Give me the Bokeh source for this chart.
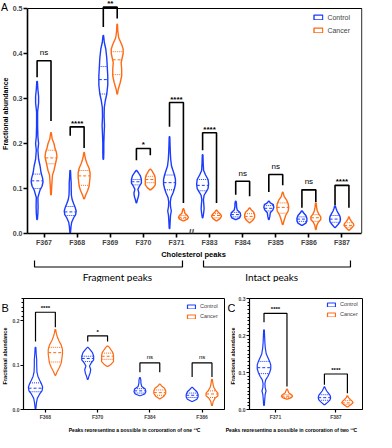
import numpy as np
from bokeh.plotting import figure
from bokeh.models import Range1d, FixedTicker, Label, PrintfTickFormatter
from bokeh.layouts import column, row
from bokeh.embed import file_html
from bokeh.resources import INLINE
from bokeh.core.properties import value

CTRL = "#1b3cff"
CANC = "#ff6a13"
AR = "Liberation Sans"

peaks = ["F367", "F368", "F369", "F370", "F371", "F383", "F384", "F385", "F386", "F387"]

# violin profiles: fractional abundance levels and half-widths (relative units)
ctrl_y = [
    [0.031, 0.045, 0.06, 0.08, 0.097, 0.105, 0.115, 0.123, 0.135, 0.15, 0.165, 0.185, 0.2, 0.215, 0.24, 0.27, 0.29, 0.305, 0.32, 0.338],
    [0.002, 0.015, 0.025, 0.035, 0.042, 0.05, 0.058, 0.066, 0.075, 0.085, 0.1, 0.112, 0.125, 0.14],
    [0.165, 0.18, 0.2, 0.22, 0.24, 0.26, 0.28, 0.295, 0.31, 0.33, 0.35, 0.37, 0.39, 0.41, 0.425, 0.44],
    [0.068, 0.075, 0.082, 0.09, 0.098, 0.105, 0.112, 0.12, 0.128, 0.135, 0.14],
    [0.011, 0.025, 0.04, 0.05, 0.06, 0.07, 0.08, 0.09, 0.1, 0.11, 0.12, 0.13, 0.14, 0.15, 0.165, 0.18, 0.2, 0.215],
    [0.035, 0.045, 0.055, 0.065, 0.075, 0.085, 0.094, 0.1, 0.11, 0.12, 0.13, 0.14, 0.155, 0.175],
    [0.031, 0.035, 0.04, 0.046, 0.052, 0.06, 0.066, 0.072],
    [0.031, 0.038, 0.046, 0.052, 0.058, 0.064, 0.068, 0.072],
    [0.018, 0.023, 0.028, 0.034, 0.04, 0.045, 0.05],
    [0.013, 0.02, 0.026, 0.032, 0.038, 0.044, 0.05, 0.056, 0.061],
]
ctrl_w = [
    [0.3, 0.8, 1.0, 0.8, 3, 5, 6, 5.5, 4, 3, 1.5, 0.8, 1.5, 0.8, 0.5, 0.5, 1.5, 1.5, 0.8, 0.3],
    [0.3, 0.8, 1.5, 3.5, 5.5, 6, 5, 3.5, 2, 1.2, 1, 1, 0.6, 0.3],
    [0.3, 0.5, 0.5, 0.8, 1.2, 0.8, 1, 2, 3.5, 4.5, 4.5, 4, 3.5, 2.5, 1, 0.3],
    [0.3, 1, 2, 2.5, 1.5, 3, 5, 5, 4, 2, 0.3],
    [0.3, 0.6, 1, 1.8, 1, 0.8, 1.5, 3.5, 5, 6, 6, 5, 3.5, 2, 1.2, 0.8, 0.5, 0.3],
    [0.3, 1, 1.5, 1.2, 0.8, 1.5, 4, 5.5, 6, 5.5, 3, 1, 0.6, 0.3],
    [0.3, 4, 5, 4.5, 1.5, 0.8, 0.8, 0.3],
    [0.3, 1, 1.5, 4, 5, 4.5, 1.5, 0.3],
    [0.3, 4, 5, 5, 4, 2, 0.3],
    [0.3, 3, 5, 5.5, 5, 3.5, 2, 1, 0.3],
]
canc_y = [
    [0.086, 0.1, 0.115, 0.13, 0.14, 0.15, 0.16, 0.17, 0.18, 0.19, 0.2, 0.21, 0.224],
    [0.077, 0.085, 0.095, 0.105, 0.115, 0.125, 0.135, 0.145, 0.155, 0.165, 0.172, 0.18],
    [0.31, 0.32, 0.335, 0.35, 0.365, 0.38, 0.39, 0.4, 0.41, 0.42, 0.435, 0.45, 0.465],
    [0.097, 0.102, 0.108, 0.115, 0.122, 0.128, 0.134, 0.14, 0.143],
    [0.028, 0.032, 0.036, 0.04, 0.045, 0.05, 0.055],
    [0.028, 0.033, 0.038, 0.043, 0.048, 0.052],
    [0.024, 0.03, 0.036, 0.042, 0.048, 0.053, 0.057],
    [0.02, 0.03, 0.04, 0.05, 0.058, 0.066, 0.074, 0.082, 0.092],
    [0.009, 0.018, 0.025, 0.031, 0.037, 0.043, 0.05, 0.058, 0.068],
    [0.007, 0.013, 0.018, 0.022, 0.027, 0.032, 0.037],
]
canc_w = [
    [0.3, 0.6, 1, 1.5, 3, 4, 5, 6, 5.5, 4, 3, 1.2, 0.3],
    [0.3, 1.5, 3.5, 5, 5.5, 6, 6, 5, 3, 1.5, 0.8, 0.3],
    [0.3, 1, 3, 4.5, 4.5, 4, 5, 6, 6, 4.5, 1.5, 0.6, 0.3],
    [0.3, 3, 5, 5, 5, 4.5, 3, 1.5, 0.3],
    [0.3, 4, 5, 4, 1.5, 1, 0.3],
    [0.3, 3.5, 5, 4, 1.5, 0.3],
    [0.3, 3.5, 5, 5, 4, 1.5, 0.3],
    [0.3, 1.5, 3, 5.5, 6, 5.5, 4, 1.5, 0.3],
    [0.3, 1, 2.5, 5, 5, 3, 1.5, 0.8, 0.3],
    [0.3, 3, 5, 4.5, 2.5, 1, 0.3],
]
# quartiles (q1, median, q3)
ctrl_q = [(0.1, 0.117, 0.132), (0.04, 0.048, 0.06), (0.31, 0.342, 0.371), (0.108, 0.115, 0.12),
          (0.097, 0.113, 0.13), (0.095, 0.107, 0.12), (0.037, 0.042, 0.047), (0.05, 0.056, 0.062),
          (0.027, 0.032, 0.037), (0.025, 0.032, 0.04)]
canc_q = [(0.155, 0.168, 0.185), (0.107, 0.128, 0.14), (0.353, 0.386, 0.404), (0.113, 0.12, 0.127),
          (0.033, 0.036, 0.04), (0.035, 0.04, 0.044), (0.032, 0.038, 0.044), (0.045, 0.058, 0.068),
          (0.027, 0.035, 0.042), (0.014, 0.018, 0.024)]

# significance brackets
sigA_text = ["ns", "****", "**", "*", "****", "****", "ns", "ns", "ns", "****"]
sigA_top = [0.384, 0.237, 0.503, 0.189, 0.291, 0.224, 0.116, 0.131, 0.097, 0.107]
sigA_left = [0.347, 0.217, 0.459, 0.163, 0.237, 0.185, 0.086, 0.092, 0.057, 0.063]
sigA_right = [0.25, 0.19, 0.478, 0.174, 0.068, 0.068, 0.083, 0.107, 0.07, 0.057]

catsB = [1, 3, 6, 8]
sigB_text = ["****", "*", "ns", "ns"]
sigB_top = [0.219, 0.166, 0.105, 0.105]
sigB_left = [0.153, 0.153, 0.084, 0.073]
sigB_right = [0.185, 0.153, 0.084, 0.073]

catsC = [4, 9]
sigC_text = ["****", "****"]
sigC_top = [0.26, 0.096]
sigC_left = [0.236, 0.067]
sigC_right = [0.062, 0.044]

groups = ["Fragment peaks", "Intact peaks"]
group_start = [-0.2, 4.86]
group_end = [4.23, 9.26]
group_text_x = [2.28, 6.9]

TITLE_A_X = "Cholesterol peaks"
TITLE_Y = "Fractional abundance"
TITLE_B_X = "Peaks representing a possible in corporation of one \u00b9\u00b3C"
TITLE_C_X = "Peaks representing a possible in corporation of two \u00b9\u00b3C"


def style(p, tick_fs, lw, tick_len):
    p.grid.visible = False
    p.outline_line_color = "black"
    p.outline_line_width = 1
    for ax in [p.xaxis[0], p.yaxis[0]]:
        ax.axis_line_color = "black"
        ax.axis_line_width = lw
        ax.major_tick_line_color = "black"
        ax.major_tick_line_width = lw
        ax.major_tick_out = tick_len
        ax.major_tick_in = 0
        ax.minor_tick_line_color = None
        ax.major_label_text_font = AR
        ax.major_label_text_font_style = "bold"
        ax.major_label_text_font_size = tick_fs
        ax.major_label_standoff = 1


def strip(width, height, items):
    """Blank figure holding free text (panel letters, axis titles); coordinates in pixels."""
    s = figure(width=width, height=height, x_range=Range1d(0, width), y_range=Range1d(0, height),
               min_border=0, x_axis_type=None, y_axis_type=None,
               toolbar_location=None, output_backend="svg")
    s.outline_line_color = None
    for (x, y, t, fs, style_, angle, align, font) in items:
        s.text(x=[x], y=[y], text=[t], angle=angle, text_align=align, text_baseline="middle",
               text_font=value(font), text_font_size=fs, text_font_style=style_, text_color="black")
    return s


def draw_violins(p, idx, off, scale, lw):
    for g, (Y, W, Q, col, lab) in enumerate([(ctrl_y, ctrl_w, ctrl_q, CTRL, "Control"),
                                               (canc_y, canc_w, canc_q, CANC, "Cancer")]):
        xs, ys = [], []
        m = dict(x0=[], x1=[], y=[])
        q = dict(x0=[], x1=[], y=[])
        for pos, k in enumerate(idx):
            cx = pos - off if g == 0 else pos + off
            yv, wv = Y[k], W[k]
            xs.append([cx + w * scale for w in wv] + [cx - w * scale for w in wv[::-1]])
            ys.append(list(yv) + list(yv[::-1]))
            for j, qq in enumerate(Q[k]):
                hw = float(np.interp(qq, yv, wv)) * scale
                d = m if j == 1 else q
                d["x0"].append(cx - hw)
                d["x1"].append(cx + hw)
                d["y"].append(qq)
        p.patches(xs, ys, fill_color="white", line_color=col, line_width=lw, legend_label=lab)
        p.segment(m["x0"], m["y"], m["x1"], m["y"], line_color=col, line_width=1, line_dash="3 2")
        p.segment(q["x0"], q["y"], q["x1"], q["y"], line_color=col, line_width=1, line_dash="1 1")


def draw_sig(p, texts, tops, lefts, rights, off, fs, lw, star_off, ns_off):
    xs, ys = [], []
    for i, (t, top, lb, rb) in enumerate(zip(texts, tops, lefts, rights)):
        xs.append([i - off, i - off, i + off, i + off])
        ys.append([lb, top, top, rb])
        star = "*" in t
        p.add_layout(Label(x=i, y=top, text=t, text_align="center", text_baseline="bottom",
                           y_offset=star_off if star else ns_off, text_font=AR,
                           text_font_size=fs, text_font_style="bold" if star else "normal",
                           text_color="black"))
    p.multi_line(xs, ys, line_color="black", line_width=lw)


def style_legend(p, fs, gw, gh, lh, margin, pad, spacing):
    lg = p.legend[0]
    lg.location = "top_right"
    lg.margin = margin
    lg.padding = pad
    lg.spacing = spacing
    lg.glyph_width = gw
    lg.glyph_height = gh
    lg.label_height = lh
    lg.label_standoff = 4
    lg.label_text_font = AR
    lg.label_text_font_size = fs
    lg.border_line_color = None
    lg.background_fill_alpha = 0


# ---------------- Panel A (page y 8..256, frame x 32..370, y 8..241) ----------------
A_H = 248
pA = figure(width=367, height=A_H, x_range=Range1d(-0.5, 9.62), y_range=Range1d(0, 0.51778),
            min_border_left=15, min_border_right=14, min_border_top=0, min_border_bottom=15,
            toolbar_location=None, output_backend="svg")
style(pA, "7px", 1.6, 4)
pA.outline_line_color = None
pA.xaxis.bounds = (-0.5, 9.6)
pA.yaxis.bounds = (0, 0.5)
pA.xaxis.ticker = FixedTicker(ticks=list(range(len(peaks))))
pA.xaxis.major_label_overrides = {i: peaks[i] for i in range(len(peaks))}
pA.yaxis.ticker = FixedTicker(ticks=[0, 0.1, 0.2, 0.3, 0.4, 0.5])
pA.yaxis.formatter = PrintfTickFormatter(format="%.1f")
# box top and right edge at the end of the y scale
pA.segment(x0=[-0.5, 9.6], y0=[0.5, 0], x1=[9.6, 9.6], y1=[0.5, 0.5], line_color="black", line_width=1)
draw_violins(pA, list(range(len(peaks))), 0.21, 1 / 33.4, 1.4)
draw_sig(pA, sigA_text, sigA_top, sigA_left, sigA_right, 0.21, "8px", 1.6, -1, 3.5)
style_legend(pA, "7px", 11, 6, 10, 12, 7, 3)
pA.add_layout(Label(x=4.45, y=0, text="//", text_align="center", text_baseline="middle",
                    text_font=AR, text_font_style="bold", text_font_size="10px", level="overlay"))

sA = strip(9, A_H, [(0.5, 241, "A", "10.5px", "normal", 0, "left", AR),
                    (4.5, 127.5, TITLE_Y, "7px", "bold", np.pi / 2, "center", AR)])

# ---------------- group brackets (page y 256..290) ----------------
pG = figure(width=376, height=34, x_range=pA.x_range, y_range=Range1d(0, 34),
            min_border_left=24, min_border_right=14, min_border_top=0, min_border_bottom=0,
            x_axis_type=None, y_axis_type=None, toolbar_location=None, output_backend="svg")
pG.outline_line_color = None
gx = [[s, s, e, e] for s, e in zip(group_start, group_end)]
gy = [[22, 15.5, 15.5, 22] for _ in groups]
pG.multi_line(gx, gy, line_color="black", line_width=1.2)
pG.text(x=group_text_x, y=[6, 6], text=groups, text_align="center", text_baseline="middle",
        text_font=value("Lato"), text_font_size="10px", text_color="black")
pG.text(x=[4.56], y=[28.5], text=[TITLE_A_X], text_align="center", text_baseline="middle",
        text_font=value(AR), text_font_size="7.5px", text_font_style="bold", text_color="black")

# ---------------- Panel B (page x 17..233, frame x 29..232, y 306..419) ----------------
R_H = 140
R_T = 16
pB = figure(width=216, height=R_H, x_range=Range1d(-0.42, 3.43), y_range=Range1d(0, 0.25),
            min_border_left=12, min_border_right=1, min_border_top=R_T, min_border_bottom=11,
            toolbar_location=None, output_backend="svg")
style(pB, "5px", 1.2, 3)
pB.xaxis.ticker = FixedTicker(ticks=list(range(len(catsB))))
pB.xaxis.major_label_overrides = {i: peaks[k] for i, k in enumerate(catsB)}
pB.yaxis.ticker = FixedTicker(ticks=[0, 0.1, 0.2], minor_ticks=[0.21, 0.22, 0.23, 0.24, 0.25])
pB.yaxis.minor_tick_line_color = "black"
pB.yaxis.minor_tick_out = 2
pB.yaxis.minor_tick_in = 0
pB.yaxis.formatter = PrintfTickFormatter(format="%.1f")
draw_violins(pB, catsB, 0.19, 1.2 / 52.7, 1.2)
draw_sig(pB, sigB_text, sigB_top, sigB_left, sigB_right, 0.19, "6px", 1.2, 1, 2.5)
style_legend(pB, "5.5px", 10, 5, 8, 4, 4, 2)

sB = strip(9, R_H, [(1, 128, "B", "11px", "normal", 0, "left", AR),
                    (4, 67.5, TITLE_Y, "5.5px", "bold", np.pi / 2, "center", AR)])

# ---------------- Panel C (page x 243..384, frame x 257..370) ----------------
pC = figure(width=141, height=R_H, x_range=Range1d(-0.43, 1.44), y_range=Range1d(0, 0.3),
            min_border_left=14, min_border_right=14, min_border_top=R_T, min_border_bottom=11,
            toolbar_location=None, output_backend="svg")
style(pC, "5px", 1.2, 3)
pC.xaxis.ticker = FixedTicker(ticks=list(range(len(catsC))))
pC.xaxis.major_label_overrides = {i: peaks[k] for i, k in enumerate(catsC)}
pC.yaxis.ticker = FixedTicker(ticks=[0, 0.1, 0.2, 0.3],
                              minor_ticks=[i / 100 for i in range(31)])
pC.yaxis.minor_tick_line_color = "black"
pC.yaxis.minor_tick_out = 2
pC.yaxis.minor_tick_in = 0
pC.yaxis.formatter = PrintfTickFormatter(format="%.1f")
draw_violins(pC, catsC, 0.19, 1.15 / 61.5, 1.2)
draw_sig(pC, sigC_text, sigC_top, sigC_left, sigC_right, 0.19, "6px", 1.2, 1, 2.5)
style_legend(pC, "5.5px", 10, 5, 8, 2, 3, 2)

sC = strip(10, R_H, [(2, 128, "C", "11px", "normal", 0, "left", AR),
                     (7, 67.5, TITLE_Y, "5.5px", "bold", np.pi / 2, "center", AR)])

# ---------------- x titles of B and C (page y 430..440) ----------------
sT = strip(376, 10, [(122.5, 5, TITLE_B_X, "5px", "bold", 0, "center", AR),
                     (297, 5, TITLE_C_X, "5px", "bold", 0, "center", AR)])

layout = column(row(sA, pA), pG, row(sB, pB, sC, pC), sT)
open("out.html", "w").write(file_html(layout, INLINE))
